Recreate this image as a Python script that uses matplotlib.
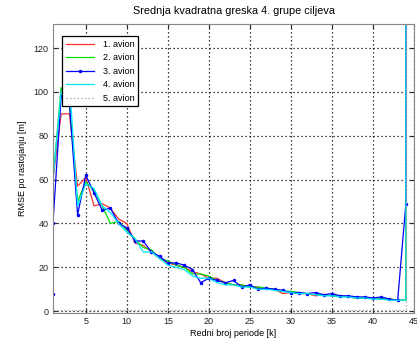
import matplotlib
matplotlib.use("Agg")
import matplotlib.pyplot as plt

# -----------------------------
# DATA
# -----------------------------
# period index; 1 and 44 repeat because the curves jump vertically there
k = [1, 1, 2, 3, 4, 5, 6, 7, 8, 9, 10, 11, 12, 13, 14, 15, 16, 17, 18, 19,
     20, 21, 22, 23, 24, 25, 26, 27, 28, 29, 30, 31, 32, 33, 34, 35, 36, 37,
     38, 39, 40, 41, 42, 43, 44, 44]

avion1 = [8, 60, 90, 90, 57, 61, 48, 49, 47, 42, 40, 31, 30, 27, 24, 22, 21,
          20, 18, 17, 15, 15, 13, 12, 12, 11, 11, 10, 10, 8, 8.5, 8, 8, 7,
          7.5, 7, 7, 6.5, 6, 6, 6, 5.5, 5.5, 5, 5, 180]
avion2 = [8, 60, 102, 95, 50, 59, 55, 48, 40, 41, 37, 33, 29, 28, 24, 23, 21,
          20, 17, 17, 16, 14, 13, 12, 12, 11, 11, 10.5, 10, 9, 9, 8.5, 8,
          7.5, 7.5, 7, 7, 6.5, 6, 6, 6, 5.5, 5.5, 5, 5, 180]
avion3 = [8, 40, 98, 95, 44, 62, 54, 46, 47, 40, 38, 32, 32, 27, 25, 22, 22,
          21, 19, 13, 15, 14, 13, 14, 11, 12, 10, 10.5, 10, 9.5, 8.5, 8.5, 8,
          8.5, 7.5, 8, 7, 7, 6.5, 6.5, 6, 6.5, 5.5, 5, 49, 180]
avion4 = [8, 60, 100, 105, 48, 58, 56, 48, 45, 40, 36, 33, 27, 27, 24, 21, 20,
          19, 16, 15, 15, 13, 12, 12, 11, 11, 10, 10, 9.5, 9, 8.5, 8, 8, 7.5,
          7, 7, 6.5, 6.5, 6, 6, 5.5, 5.5, 5, 5, 5, 180]
avion5 = [0.5] * 45 + [180]

labels = ["1. avion", "2. avion", "3. avion", "4. avion", "5. avion"]

xticks = [5, 10, 15, 20, 25, 30, 35, 40, 45]
yticks = [0, 20, 40, 60, 80, 100, 120]

# -----------------------------
# PLOTTING
# -----------------------------
plt.rcParams["font.family"] = ["Liberation Sans", "DejaVu Sans"]
plt.rcParams["font.size"] = 6.5

fig = plt.figure(figsize=(4.17, 3.52), dpi=100)
ax = fig.add_axes([0.127, 0.111, 0.866, 0.821])

ax.plot(k, avion1, color="#ff3030", lw=0.9, label=labels[0])
ax.plot(k, avion2, color="#00dd00", lw=0.9, label=labels[1])
ax.plot(k, avion3, color="#0000ff", lw=0.9, marker=".", ms=3, label=labels[2])
ax.plot(k, avion4, color="#00e5ff", lw=0.9, label=labels[3])
ax.plot(k, avion5, color="#aaaaaa", lw=1.0, ls=":", label=labels[4])

ax.set_xlim(1, 45)
ax.set_ylim(-0.8, 131)
ax.set_xticks(xticks)
ax.set_yticks(yticks)
ax.tick_params(direction="in", top=True, right=True, length=3, pad=3,
               colors="#222222")
ax.grid(True, color="black", lw=0.9, ls=(0, (1, 2.2)))
for s in ax.spines.values():
    s.set_color("#888888")

ax.set_title("Srednja kvadratna greska 4. grupe ciljeva", pad=7)
ax.set_xlabel("Redni broj periode [k]", labelpad=2)
ax.set_ylabel("RMSE po rastojanju [m]", labelpad=5)

leg = ax.legend(loc="upper left", bbox_to_anchor=(0.025, 0.958),
                fancybox=False, framealpha=1, edgecolor="black",
                handlelength=3.2, borderpad=0.4, labelspacing=0.5,
                handletextpad=0.9, borderaxespad=0)
leg.get_frame().set_linewidth(0.9)

fig.savefig("out.png", dpi=100)
